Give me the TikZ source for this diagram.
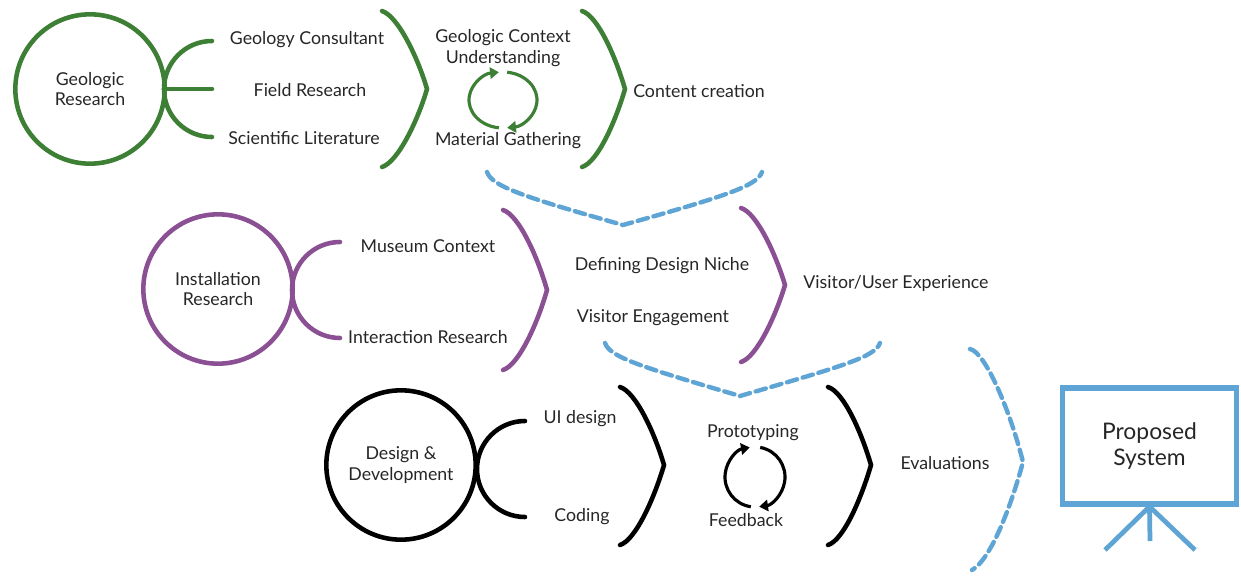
\documentclass[tikz,border=0pt]{standalone}
\usepackage{fontspec}
\setmainfont{Lato}
\usetikzlibrary{arrows.meta}
\definecolor{geogreen}{HTML}{3D7F34}
\definecolor{instpurple}{HTML}{8B4F94}
\definecolor{flowblue}{HTML}{5EA4D4}
\tikzset{
  lbl/.style={font=\fontsize{10.1}{11.6}\selectfont, text=black!85, align=center, inner sep=0pt},
  bigcirc/.style={circle, draw, line width=2.6pt, minimum size=85pt, inner sep=0pt},
  curve/.style={line width=2.6pt, line cap=round},
  cyc/.style={line width=1.8pt, -{Triangle[length=5pt,width=6.5pt]}},
  flow/.style={flowblue, line width=2.5pt, dash pattern=on 6pt off 3.3pt, line cap=round},
}
\begin{document}
\begin{tikzpicture}[x=0.02cm,y=-0.02cm]
\useasboundingbox (0,0) rectangle (1241,575);

% ---------- Geologic research row ----------
\node[bigcirc, draw=geogreen, lbl] (geo) at (90,89) {Geologic\\Research};
\coordinate (gfk) at (212,89);
\draw[curve, geogreen] (212,41) arc[start angle=270, end angle=90, radius=48];
\draw[curve, geogreen] (164,89) -- (gfk);
\node[lbl] (gc) at (307,40) {Geology Consultant};
\node[lbl] (fr) at (310,90) {Field Research};
\node[lbl] (sl) at (304,138) {Scientific Literature};
\draw[curve, geogreen] (382,11) .. controls (398,16) and (418,58) .. (427,89) .. controls (418,120) and (398,162) .. (382,167);
\node[lbl] (gcu) at (503,48) {Geologic Context\\Understanding};
\node[lbl] (mg) at (508,141) {Material Gathering};
\coordinate (gcy) at (503,100);
\draw[cyc, geogreen] (gcy) ++(97:34 and 28) arc[start angle=97, end angle=263, x radius=34, y radius=28];
\draw[cyc, geogreen] (gcy) ++(277:34 and 28) arc[start angle=277, end angle=443, x radius=34, y radius=28];
\draw[curve, geogreen] (582,11) .. controls (598,16) and (616,58) .. (625,89) .. controls (616,120) and (598,162) .. (582,167);
\node[lbl] (cc) at (699,91) {Content creation};
\draw[flow] (487,172) .. controls (492,186) and (520,196) .. (623,225) .. controls (726,196) and (757,186) .. (762,172);

% ---------- Installation research row ----------
\node[bigcirc, draw=instpurple, lbl] (inst) at (218,289) {Installation\\Research};
\draw[curve, instpurple] (340,242) arc[start angle=270, end angle=90, radius=48];
\node[lbl] (mc) at (428,246) {Museum Context};
\node[lbl] (ir) at (428,337) {Interaction Research};
\draw[curve, instpurple] (503,210) .. controls (519,215) and (538,258) .. (547,290) .. controls (538,322) and (519,365) .. (503,370);
\node[lbl] (ddn) at (662,266) {Defining Design Niche};
\node[lbl] (ve) at (653,318) {Visitor Engagement};
\draw[curve, instpurple] (741,208) .. controls (757,213) and (776,255) .. (785,285) .. controls (776,315) and (757,357) .. (741,362);
\node[lbl] (vux) at (896,283) {Visitor/User Experience};
\draw[flow] (605,343) .. controls (610,357) and (638,366) .. (740,396) .. controls (843,366) and (875,357) .. (880,343);

% ---------- Design & development row ----------
\node[bigcirc, draw=black, lbl] (dd) at (401,465) {Design \&\\Development};
\draw[curve, black] (525,421) arc[start angle=270, end angle=90, radius=48];
\node[lbl] (ui) at (580,419) {UI design};
\node[lbl] (cod) at (582,517) {Coding};
\draw[curve, black] (620,387) .. controls (636,392) and (655,434) .. (664,465) .. controls (655,496) and (636,540) .. (620,545);
\node[lbl] (pro) at (753,433) {Prototyping};
\node[lbl] (fb) at (746,520) {Feedback};
\coordinate (bcy) at (755,477);
\draw[cyc, black] (bcy) ++(98:30 and 30) arc[start angle=98, end angle=260, radius=30];
\draw[cyc, black] (bcy) ++(280:30 and 30) arc[start angle=280, end angle=442, radius=30];
\draw[curve, black] (828,387) .. controls (844,392) and (862,434) .. (871,465) .. controls (862,496) and (844,540) .. (828,545);
\node[lbl] (ev) at (945,463) {Evaluations};
\draw[flow] (970,349) .. controls (985,352) and (1010,410) .. (1023,462) .. controls (1010,510) and (990,560) .. (972,570);

% ---------- Proposed system ----------
\node[draw=flowblue, line width=2.9pt, minimum width=99pt, minimum height=66pt, inner sep=0pt,
      font=\fontsize{13}{14.5}\selectfont, text=black!85, align=center] (ps) at (1149.5,446) {Proposed\\System};
\coordinate (legl) at (1105,550);
\coordinate (legm) at (1150,541);
\coordinate (legr) at (1195,550);
\draw[flowblue, line width=2.7pt] (ps.south) -- (legl);
\draw[flowblue, line width=2.7pt] (ps.south) -- (legm);
\draw[flowblue, line width=2.7pt] (ps.south) -- (legr);
\end{tikzpicture}
\end{document}
